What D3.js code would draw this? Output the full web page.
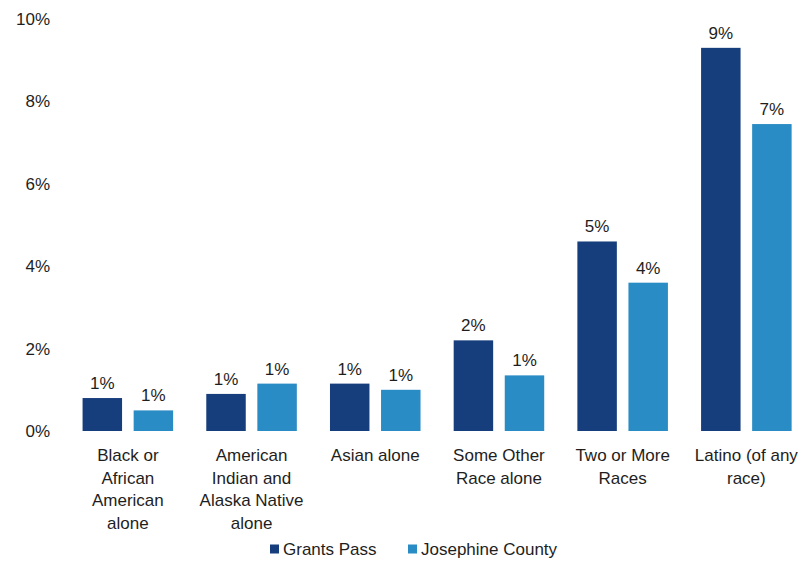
<!DOCTYPE html>
<html>
<head>
<meta charset="utf-8">
<script src="https://cdn.jsdelivr.net/npm/d3@7/dist/d3.min.js"></script>
<style>
  html, body { margin: 0; padding: 0; background: #fff; }
  svg { display: block; font-family: "Liberation Sans", Arial, sans-serif; }
</style>
</head>
<body>
<svg id="chart" width="806" height="561"></svg>
<script>
// Race / ethnicity shares (percent of population)
const categories = [
  "Black or\nAfrican\nAmerican\nalone",
  "American\nIndian and\nAlaska Native\nalone",
  "Asian alone",
  "Some Other\nRace alone",
  "Two or More\nRaces",
  "Latino (of any\nrace)"
];
const seriesNames = ["Grants Pass", "Josephine County"];
const grantsPass = [0.8, 0.9, 1.15, 2.2, 4.6, 9.3];
const josephineCounty = [0.5, 1.15, 1.0, 1.35, 3.6, 7.45];
const yTicks = [0, 2, 4, 6, 8, 10];
const colors = ["#173e7c", "#2a8cc4"];

const svg = d3.select("#chart");
const textColor = "#1e1e1e";
const fontSize = "17px";

const x0 = d3.scaleBand()
  .domain(categories)
  .range([66, 808.2])
  .paddingInner(0.268)
  .paddingOuter(0.134);

const x1 = d3.scaleBand()
  .domain(seriesNames)
  .range([0, x0.bandwidth()])
  .paddingInner(0.227);

const y = d3.scaleLinear().domain([0, 10]).range([431, 19]);

const color = d3.scaleOrdinal().domain(seriesNames).range(colors);

// y axis: labels only
const yAxis = svg.append("g")
  .attr("transform", "translate(50,0)")
  .call(d3.axisLeft(y).tickValues(yTicks).tickFormat(d => d + "%").tickSize(0).tickPadding(0));
yAxis.select(".domain").remove();
yAxis.selectAll("text")
  .attr("fill", textColor)
  .style("font-size", fontSize)
  .style("font-family", "'Liberation Sans', Arial, sans-serif");

// bars
const rows = categories.map((c, i) => ({
  cat: c,
  values: [
    { key: seriesNames[0], value: grantsPass[i] },
    { key: seriesNames[1], value: josephineCounty[i] }
  ]
}));

const groups = svg.append("g").selectAll("g")
  .data(rows)
  .join("g")
  .attr("transform", d => `translate(${x0(d.cat)},0)`);

groups.selectAll("rect")
  .data(d => d.values)
  .join("rect")
  .attr("x", d => x1(d.key))
  .attr("y", d => y(d.value))
  .attr("width", x1.bandwidth())
  .attr("height", d => y(0) - y(d.value))
  .attr("fill", d => color(d.key));

// value labels (rounded to whole percent)
groups.selectAll("text.val")
  .data(d => d.values)
  .join("text")
  .attr("class", "val")
  .attr("x", d => x1(d.key) + x1.bandwidth() / 2)
  .attr("y", d => y(d.value) - 9)
  .attr("text-anchor", "middle")
  .attr("fill", textColor)
  .style("font-size", fontSize)
  .text(d => d3.format(".0f")(d.value) + "%");

// category labels, multi-line
const xAxis = svg.append("g")
  .attr("transform", `translate(0,${y(0)})`)
  .call(d3.axisBottom(x0).tickSize(0).tickFormat(""));
xAxis.select(".domain").remove();
xAxis.selectAll(".tick").append("text")
  .attr("fill", textColor)
  .attr("text-anchor", "middle")
  .style("font-size", fontSize)
  .style("font-family", "'Liberation Sans', Arial, sans-serif")
  .each(function(d) {
    const lines = d.split("\n");
    d3.select(this).selectAll("tspan")
      .data(lines)
      .join("tspan")
      .attr("x", 0)
      .attr("y", (l, i) => 30 + i * 22.5)
      .text(l => l);
  });

// legend
const legend = svg.append("g").attr("transform", "translate(0,549)");
const legendX = [270, 408];
seriesNames.forEach((name, i) => {
  const g = legend.append("g").attr("transform", `translate(${legendX[i]},0)`);
  g.append("rect")
    .attr("x", 0).attr("y", -4.5)
    .attr("width", 9).attr("height", 9)
    .attr("fill", colors[i]);
  g.append("text")
    .attr("x", 13).attr("y", 6)
    .attr("fill", textColor)
    .style("font-size", fontSize)
    .text(name);
});
</script>
</body>
</html>
